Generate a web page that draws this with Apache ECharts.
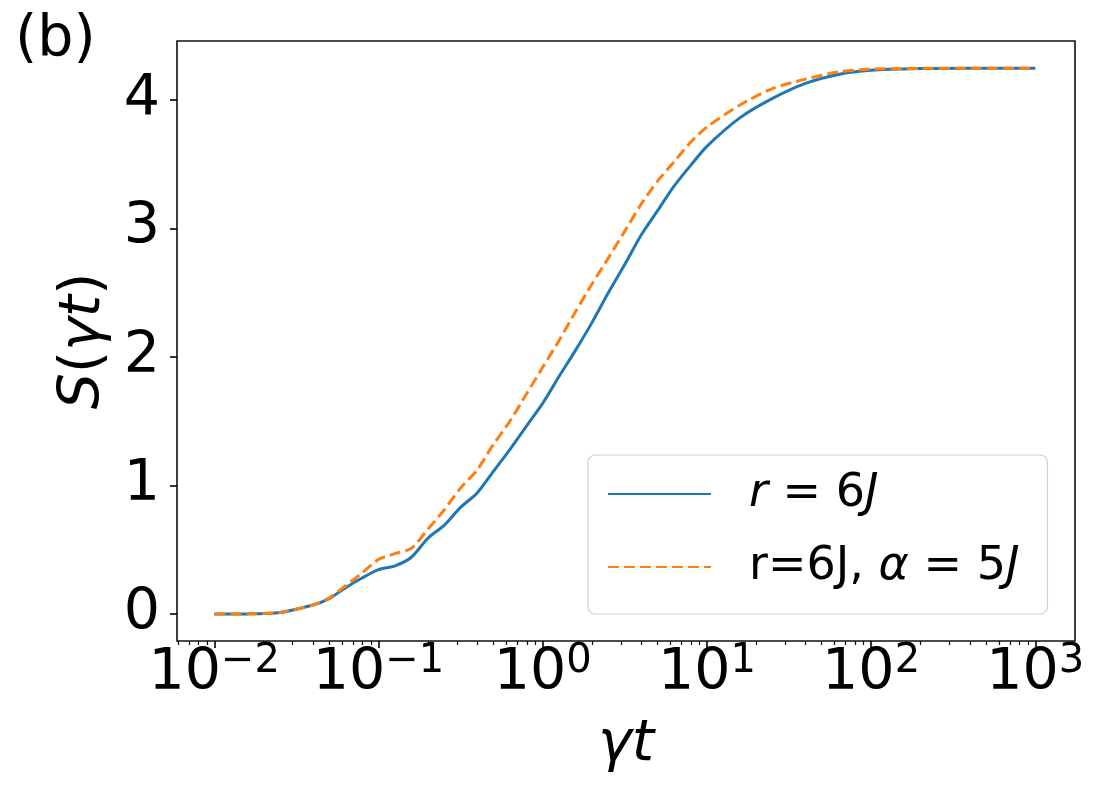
<!DOCTYPE html>
<html>
<head>
<meta charset="utf-8">
<script src="https://cdn.jsdelivr.net/npm/echarts@6/dist/echarts.min.js"></script>
<style>
  html, body { margin: 0; padding: 0; background: #fff; }
  #chart { width: 1104px; height: 793px; }
</style>
</head>
<body>
<div id="chart"></div>
<script>
// gamma*t sample points (log spaced)
const tValues = [0.01, 0.0158, 0.0251, 0.0398, 0.0501, 0.0631, 0.0794, 0.1, 0.126, 0.158,
  0.2, 0.251, 0.316, 0.398, 0.501, 0.631, 0.794, 1, 1.26, 1.58,
  2, 2.51, 3.16, 3.98, 5.01, 6.31, 7.94, 10, 15.8, 25.1,
  39.8, 63.1, 100, 200, 398, 1000];

// S(gamma t), r = 6J
const sBlue = [0, 0.001, 0.012, 0.07, 0.12, 0.205, 0.28, 0.345, 0.375, 0.44,
  0.59, 0.69, 0.83, 0.94, 1.11, 1.28, 1.46, 1.64, 1.85, 2.05,
  2.27, 2.50, 2.72, 2.95, 3.14, 3.33, 3.49, 3.64, 3.86, 4.013,
  4.13, 4.20, 4.232, 4.245, 4.248, 4.248];

// S(gamma t), r = 6J, alpha = 5J
const sOrange = [0, 0.001, 0.012, 0.07, 0.125, 0.22, 0.32, 0.425, 0.47, 0.51,
  0.66, 0.81, 0.98, 1.12, 1.32, 1.50, 1.71, 1.92, 2.13, 2.35,
  2.57, 2.77, 2.98, 3.19, 3.37, 3.52, 3.67, 3.79, 3.96, 4.09,
  4.163, 4.22, 4.241, 4.247, 4.248, 4.248];

const xMajorTicks = [0.01, 0.1, 1, 10, 100, 1000];
const xMinorTicks = [0.006, 0.007, 0.008, 0.009,
  0.02, 0.03, 0.04, 0.05, 0.06, 0.07, 0.08, 0.09,
  0.2, 0.3, 0.4, 0.5, 0.6, 0.7, 0.8, 0.9,
  2, 3, 4, 5, 6, 7, 8, 9,
  20, 30, 40, 50, 60, 70, 80, 90,
  200, 300, 400, 500, 600, 700, 800, 900];
const yTicks = [0, 1, 2, 3, 4];

const seriesNames = ['r = 6J', 'r=6J, α = 5J'];

const FONT = 'DejaVu Sans';
const X_MIN = 0.00593, X_MAX = 1745;

function pair(xs, ys) {
  return xs.map((x, i) => [x, ys[i]]);
}

function powLabel(v) {
  const e = Math.round(Math.log10(v));
  const sup = e < 0 ? '\u2212' + (-e) : String(e);
  return '{b|10}{s|' + sup + '}';
}

const chart = echarts.init(document.getElementById('chart'));

const option = {
  animation: false,
  backgroundColor: '#fff',
  grid: {
    left: 177, right: 29, top: 41, bottom: 152,
    show: true, borderColor: '#111', borderWidth: 1.6, backgroundColor: 'transparent'
  },
  graphic: [{
    type: 'text', left: 15, top: 12,
    style: { text: '(b)', fontFamily: FONT, fontSize: 57, fill: '#000' }
  }],
  legend: {
    left: 588, top: 455,
    orient: 'vertical',
    itemWidth: 103, itemHeight: 14, itemGap: 23,
    padding: [14, 28, 22, 19],
    borderColor: '#d0d0d0', borderWidth: 1.2, borderRadius: 7,
    backgroundColor: 'rgba(255,255,255,0.8)',
    itemStyle: { opacity: 0 },
    data: seriesNames,
    formatter: function (name) {
      if (name === seriesNames[0]) return '{sp|}{i|r}{n| = 6}{i|J}';
      return '{sp|}{n|r=6J, }{i|α}{n| = 5}{i|J}';
    },
    textStyle: {
      fontFamily: FONT, fontSize: 46, color: '#000', lineHeight: 50,
      rich: {
        sp: { width: 33 },
        i: { fontFamily: FONT, fontSize: 46, fontStyle: 'italic', lineHeight: 50, color: '#000' },
        n: { fontFamily: FONT, fontSize: 46, lineHeight: 50, color: '#000' }
      }
    }
  },
  xAxis: [{
    type: 'log', logBase: 10, min: X_MIN, max: X_MAX,
    name: '{i|γt}', nameLocation: 'middle', nameGap: 76,
    nameTextStyle: {
      rich: { i: { fontFamily: FONT, fontSize: 57, fontStyle: 'italic', lineHeight: 57, color: '#000' } }
    },
    axisLine: { show: false, onZero: false },
    splitLine: { show: false },
    axisTick: { show: true, inside: false, length: 7, lineStyle: { color: '#000', width: 1.6 }, customValues: xMajorTicks },
    axisLabel: {
      margin: 1,
      customValues: xMajorTicks,
      formatter: powLabel,
      rich: {
        b: { fontFamily: FONT, fontSize: 57, lineHeight: 60, padding: [5, 0, 0, 0], color: '#000' },
        s: { fontFamily: FONT, fontSize: 40, lineHeight: 40, verticalAlign: 'top', color: '#000' }
      }
    }
  }, {
    type: 'log', logBase: 10, min: X_MIN, max: X_MAX, gridIndex: 0, position: 'bottom',
    axisLine: { show: false, onZero: false },
    splitLine: { show: false },
    axisLabel: { show: false },
    axisTick: { show: true, inside: false, length: 4, lineStyle: { color: '#000', width: 1.2 }, customValues: xMinorTicks }
  }],
  yAxis: {
    type: 'value', min: -0.21, max: 4.46,
    name: '{i|S}{n|(}{i|γt}{n|)}', nameLocation: 'middle', nameGap: 62, nameRotate: 90,
    nameTextStyle: {
      rich: {
        i: { fontFamily: FONT, fontSize: 57, fontStyle: 'italic', lineHeight: 57, color: '#000' },
        n: { fontFamily: FONT, fontSize: 57, lineHeight: 57, color: '#000' }
      }
    },
    axisLine: { show: false, onZero: false },
    splitLine: { show: false },
    axisTick: { show: true, inside: false, length: 7, lineStyle: { color: '#000', width: 1.6 }, customValues: yTicks },
    axisLabel: {
      margin: 17, customValues: yTicks,
      fontFamily: FONT, fontSize: 57, color: '#000'
    }
  },
  series: [{
    name: seriesNames[0], type: 'line', xAxisIndex: 0,
    data: pair(tValues, sBlue),
    showSymbol: false, symbol: 'none', smooth: 0.25,
    lineStyle: { color: '#1f77b4', width: 3 },
    itemStyle: { color: '#1f77b4' }
  }, {
    name: seriesNames[1], type: 'line', xAxisIndex: 0,
    data: pair(tValues, sOrange),
    showSymbol: false, symbol: 'none', smooth: 0.25,
    lineStyle: { color: '#ff7f0e', width: 3, type: [11, 5] },
    itemStyle: { color: '#ff7f0e' }
  }]
};

chart.setOption(option);
</script>
</body>
</html>
